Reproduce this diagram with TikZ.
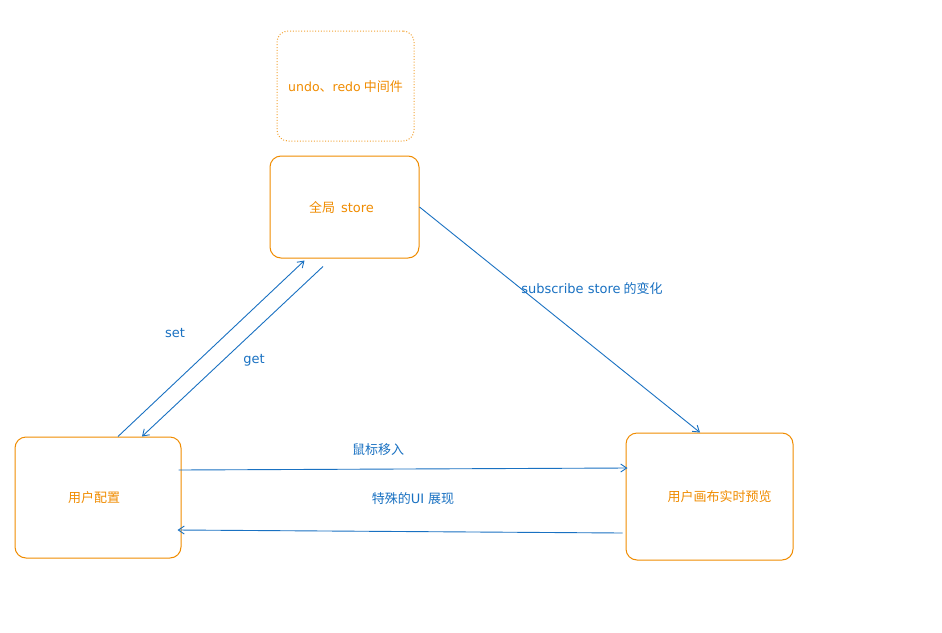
\documentclass[tikz,border=0pt]{standalone}
\usepackage{fontspec}
\setmainfont{Noto Sans CJK SC}
\newfontfamily\latn{DejaVu Sans}
\usetikzlibrary{arrows.meta}
\definecolor{exo}{HTML}{F08C00}
\definecolor{exb}{HTML}{1971C2}
\begin{document}
\begin{tikzpicture}[x=1pt,y=-1pt,
  box/.style={draw=exo, line width=1pt, rounded corners=11pt, text=exo, font=\fontsize{13}{15}\selectfont, inner sep=0pt},
  dotbox/.style={box, draw=exo!80, dash pattern=on 1pt off 1.8pt},
  conn/.style={draw=exb, line width=0.9pt, -{Straight Barb[length=6pt,width=8pt]}},
  lbl/.style={text=exb, font=\fontsize{13}{15}\selectfont, inner sep=0pt}]
\path[use as bounding box, fill=white] (0,0) rectangle (942,632);

\node[dotbox, minimum width=137pt, minimum height=110pt, text depth=-3pt] (undo) at (345.5,86) {{\latn\fontsize{12.5}{15}\selectfont undo}、{\latn\fontsize{12.5}{15}\selectfont redo}\hspace{3pt}中间件};
\node[box, minimum width=149pt, minimum height=102pt] (store) at (344.5,207) {全局\hspace{6pt}{\latn store}\hspace*{6pt}};
\node[box, minimum width=166pt, minimum height=121pt] (cfg) at (98,497.5) {用户配置\hspace*{8pt}};
\node[box, minimum width=167pt, minimum height=127pt] (prev) at (709.5,496.5) {\hspace*{20pt}用户画布实时预览};

\draw[conn] ([xshift=20pt]cfg.north) -- ([xshift=-40pt,yshift=-2pt]store.south);
\draw[conn] ([xshift=-21.5pt,yshift=-8pt]store.south) -- ([xshift=44pt]cfg.north);
\draw[conn] (store.east) -- ([xshift=-9.5pt]prev.north);
\draw[conn] ([xshift=-3pt,yshift=27.5pt]cfg.east) -- ([xshift=2pt,yshift=28.5pt]prev.west);
\draw[conn] ([xshift=-3pt,yshift=-36.5pt]prev.west) -- ([xshift=-4pt,yshift=-32.5pt]cfg.east);

\node[lbl] (lset) at (175,333) {\latn set};
\node[lbl] (lget) at (254,360) {\latn get};
\node[lbl] (lsub) at (592,289) {{\latn subscribe store}\hspace{3pt}的变化};
\node[lbl] (lmouse) at (378,450) {鼠标移入};
\node[lbl] (lui) at (413,499) {特殊的{\latn UI}\hspace{4pt}展现};
\end{tikzpicture}
\end{document}
